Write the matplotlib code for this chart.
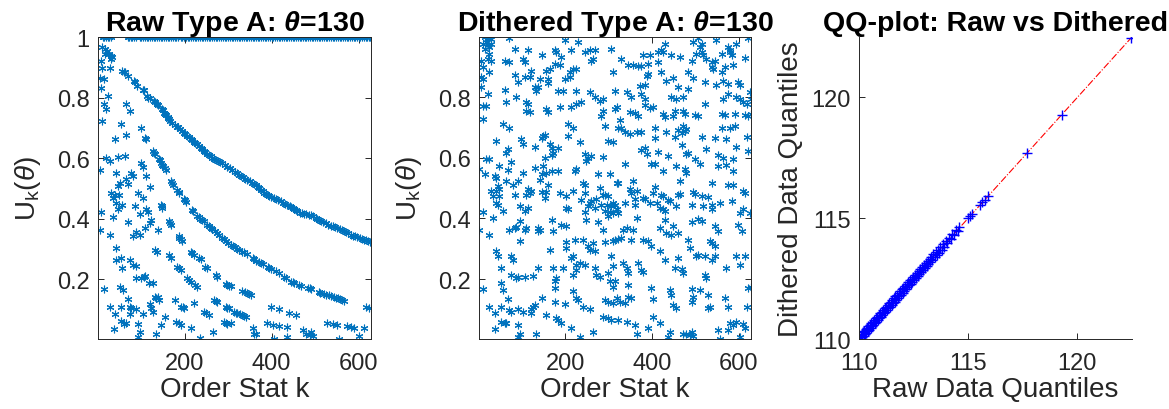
import numpy as np
import matplotlib.pyplot as plt

plt.rcParams['font.family'] = ['Liberation Sans', 'DejaVu Sans']
plt.rcParams['mathtext.fontset'] = 'custom'
plt.rcParams['mathtext.rm'] = 'Liberation Sans'
plt.rcParams['mathtext.it'] = 'Liberation Sans:italic'
plt.rcParams['mathtext.bf'] = 'Liberation Sans:bold:italic'

MBLUE = '#0072BD'
GREY = '#262626'
N_OBS = 628

# ---- raw type A: U_k(theta) vs order statistic k ----
raw_ones_k = [12, 16, 19, 23, 27, 31, 69, 72, 76, 80, 84, 88, 98, 101, 105, 109, 113, 117,
              121, 125, 129, 133, 137, 141, 145, 149, 153, 157, 161, 165, 169, 173, 177, 181,
              185, 191, 195, 199, 203, 207, 211, 215, 219, 223, 227, 231, 235, 239, 243, 247,
              251, 255, 259, 263, 267, 271, 275, 279, 283, 288, 292, 296, 300, 304, 308, 312,
              316, 320, 324, 328, 332, 336, 340, 344, 348, 352, 356, 360, 364, 368, 372, 376,
              380, 384, 388, 392, 396, 400, 404, 408, 412, 416, 420, 424, 428, 432, 436, 440,
              444, 448, 452, 456, 460, 464, 468, 472, 476, 480, 484, 488, 492, 496, 500, 504,
              508, 512, 516, 520, 524, 528, 532, 536, 540, 544, 548, 552, 556, 560, 564, 568,
              572, 576, 580, 584, 588, 592, 596, 600, 604, 608, 612, 616, 620, 624, 627]

raw_band1 = [(11, .966), (18, .960), (22, .955), (26, .944), (30, .938), (34, .933), (18, .944),
             (30, .927), (57, .888), (60, .885), (62, .883), (71, .872), (83, .853), (85, .850),
             (90, .839), (104, .826), (106, .824), (114, .805), (117, .800), (120, .797),
             (129, .787), (131, .785), (137, .777), (139, .775), (149, .762), (151, .759),
             (153, .750), (156, .745), (158, .741), (161, .736), (163, .732), (165, .728),
             (167, .723), (172, .716), (177, .710), (183, .704), (185, .701), (190, .695),
             (195, .690), (199, .684), (202, .679), (206, .674), (210, .668), (214, .663),
             (218, .659), (222, .654), (225, .649), (229, .645), (233, .639), (237, .634),
             (241, .629), (245, .624), (248, .619), (252, .615), (256, .610), (260, .606),
             (264, .601), (268, .597), (272, .593), (276, .589), (281, .586), (286, .582),
             (292, .578), (298, .572), (304, .566), (310, .559), (315, .554), (320, .549),
             (325, .544), (329, .540), (334, .536), (339, .532), (344, .528), (350, .524),
             (355, .519), (360, .515), (364, .511), (368, .505), (371, .500), (375, .495),
             (379, .490), (382, .485), (387, .481), (391, .479), (394, .476), (399, .472),
             (405, .468), (410, .465), (415, .461), (421, .457), (426, .453), (431, .449),
             (436, .446), (441, .441), (445, .437), (448, .434), (452, .431), (456, .427),
             (459, .424), (464, .420), (469, .417), (474, .415), (480, .414), (486, .413),
             (490, .412), (495, .408), (501, .402), (505, .398), (509, .394), (513, .391),
             (518, .388), (524, .385), (530, .380), (536, .376), (541, .374), (546, .371),
             (551, .369), (556, .365), (561, .361), (566, .358), (571, .355), (576, .351),
             (582, .347), (587, .344), (592, .341), (597, .339), (602, .336), (607, .332),
             (612, .330), (617, .328), (622, .326), (626, .324)]

raw_band2 = [(99, .700), (110, .667), (112, .662), (127, .623), (130, .618), (133, .613),
             (141, .597), (143, .593), (146, .585), (149, .578), (151, .574), (154, .566),
             (157, .561), (168, .524), (170, .519), (173, .512), (183, .493), (186, .488),
             (188, .485), (199, .466), (202, .460), (204, .456), (218, .428), (220, .425),
             (229, .410), (233, .404), (236, .400), (241, .395), (244, .391), (252, .380),
             (256, .376), (260, .370), (264, .366), (269, .359), (275, .352), (280, .346),
             (287, .336), (290, .331), (294, .327), (300, .320), (306, .313), (311, .309),
             (315, .305), (321, .299), (326, .295), (333, .291), (337, .288), (344, .284),
             (357, .270), (360, .267), (365, .261), (371, .257), (375, .253), (379, .249),
             (391, .239), (394, .236), (398, .233), (410, .227), (417, .220), (428, .208),
             (432, .204), (444, .192), (448, .189), (452, .186), (463, .181), (467, .178),
             (483, .172), (487, .170), (490, .168), (508, .157), (512, .154), (520, .151),
             (525, .147), (531, .146), (537, .143), (544, .140), (548, .138), (552, .136),
             (557, .134), (562, .131), (566, .129)]

raw_band3 = [(100, .584), (104, .571), (112, .540), (120, .505), (145, .446), (147, .441),
             (149, .436), (164, .391), (166, .386), (168, .380), (186, .341), (188, .337),
             (191, .332), (195, .327), (214, .291), (217, .285), (221, .280), (233, .270),
             (237, .265), (248, .241), (252, .236), (271, .213), (275, .208), (294, .185),
             (298, .181), (301, .178), (306, .176), (333, .160), (338, .157), (343, .155),
             (348, .152), (352, .148)]

raw_band4 = [(133, .297), (136, .291), (164, .280), (168, .269), (183, .241), (187, .236),
             (191, .230), (206, .203), (210, .197), (214, .192), (225, .181), (229, .175),
             (268, .131), (272, .128), (275, .125), (294, .109), (298, .106), (302, .103),
             (314, .092), (318, .089), (321, .087), (327, .084), (333, .081), (337, .078),
             (340, .076)]

raw_scatter = [(8, .922), (11, .899), (28, .899), (6, .866), (14, .861), (8, .833), (24, .805),
               (14, .778), (20, .761), (11, .722), (66, .778), (74, .756), (55, .714),
               (66, .675), (39, .664), (5, .562), (20, .601), (28, .590), (47, .603),
               (62, .606), (43, .551), (51, .516), (47, .507), (31, .485), (39, .479),
               (49, .479), (35, .468), (43, .452), (57, .446), (47, .430), (8, .421),
               (35, .405), (5, .363), (28, .347), (70, .388), (77, .549), (81, .540),
               (66, .531), (70, .513), (93, .485), (104, .468), (85, .441), (97, .416),
               (112, .430), (116, .421), (123, .396), (120, .387), (108, .369), (139, .363),
               (89, .354), (81, .341), (97, .347), (43, .302), (43, .264), (54, .269),
               (57, .236), (74, .264), (81, .247), (89, .244), (89, .203), (108, .211),
               (127, .188), (14, .166), (52, .173), (58, .164), (70, .133), (74, .109),
               (54, .109), (28, .107), (77, .103), (89, .100), (39, .085), (74, .085),
               (104, .085), (120, .118), (123, .105), (127, .092), (135, .137), (139, .142),
               (54, .062), (60, .053), (66, .056), (37, .034), (93, .053), (97, .026),
               (93, .009), (135, .018), (154, .076), (146, .048), (99, .203), (107, .208),
               (118, .186), (133, .142), (141, .131), (177, .131), (191, .109), (196, .109),
               (199, .103), (222, .120), (245, .092), (250, .087), (256, .081), (291, .059),
               (295, .056), (298, .053), (356, .037), (360, .018), (181, .059), (186, .054),
               (192, .048), (214, .037), (235, .004), (265, .026), (306, .054),
               (398, .109), (417, .100), (440, .089), (455, .081), (390, .054), (402, .048),
               (417, .045), (363, .018), (436, .043), (436, .009), (405, .003), (471, .032),
               (479, .020), (487, .015), (494, .012), (491, .026), (528, .056), (540, .052),
               (551, .048), (555, .003), (574, .045), (583, .043), (590, .040), (601, .012),
               (612, .037), (616, .109), (624, .103)]

# ---- dithered type A ----
dith_pts = [
    (14, .998), (21, .993), (25, .997), (29, .993), (18, .982), (10, .977), (21, .971), (29, .977),
    (14, .960), (25, .966), (71, .997), (198, .988), (229, .982), (25, .944), (21, .927), (6, .921),
    (29, .921), (83, .960), (114, .955), (145, .938), (175, .955), (179, .949), (191, .933),
    (214, .955), (245, .949), (256, .955), (268, .955), (264, .927), (260, .921), (60, .921),
    (71, .916), (102, .927), (106, .916), (306, .960), (10, .899), (25, .883), (83, .872),
    (91, .850), (121, .888), (156, .888), (164, .894), (175, .910), (187, .905), (210, .883),
    (218, .894), (225, .894), (198, .861), (210, .866), (106, .866), (118, .866), (141, .861),
    (160, .861), (160, .847), (6, .866), (10, .861), (310, .883), (6, .833), (21, .811), (60, .824),
    (87, .800), (129, .833), (133, .822), (137, .833), (183, .822), (195, .822), (225, .822),
    (256, .816), (268, .800), (279, .789), (287, .794), (314, .822), (64, .785), (110, .785),
    (114, .778), (18, .772), (10, .772), (156, .761), (160, .752), (110, .756), (118, .750),
    (187, .767), (214, .767), (225, .778), (237, .783), (283, .739), (287, .756), (314, .761),
    (10, .728), (56, .711), (71, .697), (206, .711), (218, .700), (291, .706), (145, .667),
    (148, .673), (152, .675), (206, .673), (41, .656), (98, .662), (102, .645), (233, .651),
    (298, .656), (310, .651), (64, .617), (68, .628), (129, .637), (164, .645), (168, .634),
    (183, .634), (18, .597), (25, .597), (75, .586), (152, .601), (168, .609), (172, .615),
    (245, .612), (252, .601), (260, .606), (248, .590), (287, .603), (2, .562), (48, .573),
    (68, .560), (102, .551), (129, .568), (148, .573), (145, .546), (156, .551), (168, .557),
    (183, .557), (221, .557), (225, .562), (275, .548), (302, .546), (14, .546), (37, .540),
    (41, .535), (64, .523), (141, .527), (241, .518), (245, .512), (160, .512), (45, .507),
    (29, .490), (41, .490), (48, .496), (79, .512), (91, .523), (114, .496), (118, .485),
    (121, .490), (145, .487), (156, .487), (152, .468), (187, .485), (202, .474), (218, .490),
    (245, .485), (279, .501), (287, .479), (291, .479), (298, .474), (48, .474), (33, .474),
    (83, .477), (110, .479), (256, .452), (260, .457), (271, .463), (283, .446), (295, .446),
    (306, .441), (310, .452), (41, .452), (45, .446), (237, .460), (95, .441), (106, .424),
    (114, .435), (202, .435), (206, .430), (10, .421), (56, .424), (33, .402), (245, .421),
    (252, .441), (268, .435), (291, .424), (302, .421), (310, .418), (95, .391), (168, .396),
    (248, .394), (275, .387), (298, .407), (2, .363), (25, .347), (71, .363), (83, .369),
    (87, .372), (106, .363), (110, .369), (137, .369), (141, .363), (137, .358), (172, .360),
    (191, .380), (202, .374), (287, .363), (202, .321), (221, .328), (241, .328), (264, .319),
    (291, .321), (310, .324), (95, .324), (41, .291), (45, .275), (75, .275), (79, .264),
    (202, .302), (214, .269), (218, .275), (252, .308), (256, .297), (268, .291), (164, .297),
    (306, .275), (310, .242), (245, .247), (225, .247), (225, .231), (233, .253), (52, .236),
    (75, .214), (87, .203), (91, .208), (106, .208), (125, .211), (137, .236), (172, .236),
    (179, .203), (175, .192), (195, .236), (218, .214), (268, .236), (271, .214), (279, .206),
    (298, .219), (302, .192), (310, .175), (10, .166), (52, .186), (56, .164), (175, .170),
    (218, .159), (68, .133), (25, .107), (52, .109), (71, .098), (75, .092), (91, .100),
    (102, .092), (121, .100), (125, .109), (129, .114), (121, .089), (145, .137), (175, .125),
    (198, .118), (225, .137), (229, .131), (241, .109), (256, .100), (291, .131), (298, .125),
    (310, .120), (37, .087), (52, .059), (64, .056), (60, .054), (91, .048), (95, .020),
    (91, .009), (133, .020), (156, .081), (179, .073), (183, .065), (191, .054), (214, .037),
    (233, .009), (264, .026), (287, .076), (298, .073), (306, .065), (37, .034),
    (429, .977), (494, .982), (506, .997), (514, .977), (510, .966), (514, .949), (518, .938),
    (502, .944), (525, .927), (537, .916), (544, .921), (548, .988), (560, .944), (575, .966),
    (579, .955), (583, .938), (579, .949), (594, .977), (621, .997), (379, .938), (394, .940),
    (414, .949), (421, .955), (425, .949), (444, .940), (464, .933), (491, .921), (614, .929),
    (329, .927), (344, .907), (356, .905), (368, .903), (375, .903), (391, .910),
    (414, .916), (391, .877), (387, .870), (421, .883), (433, .855), (448, .863),
    (483, .883), (494, .863), (537, .899), (541, .894), (568, .899), (587, .905), (560, .883),
    (521, .850), (548, .839), (564, .855), (575, .844), (598, .850), (602, .839), (383, .839),
    (460, .833), (483, .827), (341, .816), (352, .800), (371, .836), (375, .811), (383, .794),
    (444, .800), (456, .794), (471, .800), (564, .794), (575, .811), (594, .800), (602, .794),
    (610, .785), (625, .819), (627, .794), (521, .778), (618, .778), (318, .767), (348, .750),
    (360, .748), (368, .737), (383, .774), (394, .763), (402, .767), (425, .745), (429, .734),
    (448, .737), (452, .756), (471, .756), (475, .745), (498, .741), (506, .737), (560, .745),
    (568, .741), (591, .745), (614, .741), (621, .739), (627, .745), (325, .726), (321, .700),
    (329, .697), (337, .684), (348, .678), (364, .684), (375, .684), (406, .697), (406, .664),
    (433, .684), (452, .670), (460, .693), (468, .682), (471, .706), (475, .689), (479, .695),
    (514, .670), (544, .664), (571, .662), (560, .697), (579, .697), (591, .706), (618, .670),
    (375, .626), (383, .631), (387, .612), (414, .620), (437, .606), (468, .642),
    (483, .615), (479, .612), (525, .628), (552, .609), (564, .601), (587, .597), (594, .637),
    (621, .623), (337, .579), (398, .579), (406, .579), (425, .557), (456, .573), (479, .551),
    (475, .562), (498, .595), (510, .579), (552, .573), (571, .575), (587, .557),
    (318, .518), (321, .516), (356, .523), (348, .496), (352, .485), (364, .490), (360, .463),
    (379, .468), (383, .463), (406, .505), (402, .485), (421, .476), (425, .474), (460, .479),
    (464, .482), (441, .457), (464, .523), (494, .487), (498, .482), (514, .474), (529, .471),
    (537, .518), (575, .509), (587, .512), (614, .485), (610, .490), (314, .446),
    (318, .430), (321, .418), (337, .452), (360, .446), (394, .452), (410, .452),
    (418, .435), (425, .430), (429, .396), (429, .424), (437, .460), (456, .441), (491, .446),
    (518, .441), (537, .430), (537, .446), (556, .452), (583, .457), (602, .418), (610, .430),
    (625, .418), (491, .387), (506, .398), (514, .391), (333, .363), (341, .369), (356, .363),
    (364, .402), (418, .369), (433, .352), (444, .347), (448, .374), (460, .352), (544, .374),
    (552, .358), (598, .380), (606, .358), (314, .330), (321, .332), (329, .336), (352, .330),
    (379, .330), (391, .324), (398, .310), (483, .330), (487, .302), (533, .324), (537, .319),
    (544, .308), (333, .253), (341, .236), (344, .219), (368, .253), (375, .231),
    (379, .222), (418, .291), (429, .264), (460, .269), (502, .275), (506, .280), (521, .275),
    (537, .264), (544, .275), (571, .236), (594, .275), (602, .247), (614, .275), (452, .236),
    (468, .233), (471, .219), (521, .214), (525, .203), (314, .195), (344, .181),
    (398, .170), (402, .133), (441, .164), (444, .148), (491, .166), (494, .142), (491, .125),
    (510, .164), (529, .148), (621, .170), (627, .175), (318, .137), (325, .125), (337, .120),
    (344, .142), (352, .139), (568, .139), (448, .114), (456, .103), (529, .103), (533, .109),
    (575, .109), (618, .107), (321, .065), (341, .059), (360, .048), (364, .018),
    (391, .037), (402, .076), (418, .054), (441, .026), (437, .009), (471, .020), (479, .020),
    (487, .015), (494, .012), (491, .026), (552, .032), (556, .003), (579, .054), (575, .032),
    (587, .048), (594, .059), (602, .009), (610, .051), (614, .040)]

# ---- QQ plot: sorted raw vs sorted dithered ----
qq_raw = [110.00, 110.02, 110.05, 110.08, 110.10, 110.13, 110.16, 110.19, 110.22, 110.25,
          110.28, 110.31, 110.34, 110.37, 110.40, 110.43, 110.46, 110.50, 110.53, 110.56,
          110.60, 110.63, 110.66, 110.70, 110.73, 110.76, 110.80, 110.83, 110.86, 110.90,
          110.93, 110.97, 111.00, 111.04, 111.07, 111.11, 111.14, 111.18, 111.21, 111.25,
          111.28, 111.32, 111.35, 111.39, 111.42, 111.46, 111.49, 111.53, 111.56, 111.60,
          111.63, 111.67, 111.70, 111.74, 111.78, 111.81, 111.85, 111.89, 111.92, 111.96,
          112.00, 112.03, 112.07, 112.11, 112.15, 112.18, 112.22, 112.26, 112.30, 112.34,
          112.37, 112.41, 112.45, 112.49, 112.53, 112.57, 112.61, 112.65, 112.69, 112.73,
          112.77, 112.81, 112.85, 112.89, 112.93, 112.97, 113.01, 113.05, 113.10, 113.14,
          113.18, 113.23, 113.27, 113.32, 113.36, 113.41, 113.46, 113.51, 113.56, 113.61,
          113.66, 113.72, 113.78, 113.84, 113.90, 113.97, 114.04, 114.12, 114.20, 114.28,
          114.36, 114.44, 114.52, 114.58, 114.98, 115.08, 115.17, 115.55, 115.65, 115.75,
          115.92, 117.68, 119.28, 122.47]
qq_dith = [110.00, 110.11, 109.98, 110.17, 110.02, 110.22, 110.08, 110.28, 110.14, 110.34,
           110.20, 110.40, 110.26, 110.46, 110.32, 110.52, 110.38, 110.59, 110.45, 110.65,
           110.52, 110.72, 110.58, 110.79, 110.65, 110.85, 110.72, 110.92, 110.78, 110.99,
           110.85, 111.06, 110.92, 111.13, 110.99, 111.20, 111.06, 111.27, 111.13, 111.34,
           111.20, 111.41, 111.27, 111.48, 111.34, 111.55, 111.41, 111.62, 111.48, 111.69,
           111.55, 111.76, 111.62, 111.83, 111.70, 111.90, 111.77, 111.98, 111.84, 112.05,
           111.92, 112.12, 111.99, 112.20, 112.07, 112.27, 112.14, 112.35, 112.22, 112.43,
           112.29, 112.50, 112.37, 112.58, 112.45, 112.66, 112.53, 112.74, 112.61, 112.82,
           112.69, 112.90, 112.77, 112.98, 112.85, 113.06, 112.93, 113.14, 113.02, 113.23,
           113.10, 113.32, 113.19, 113.41, 113.28, 113.50, 113.38, 113.60, 113.48, 113.70,
           113.58, 113.81, 113.70, 113.93, 113.82, 114.06, 113.96, 114.20, 114.13, 114.36,
           114.29, 114.52, 114.46, 114.62, 114.99, 115.09, 115.18, 115.56, 115.66, 115.76,
           115.93, 117.69, 119.29, 122.47]


def style_axes(ax, box=True):
    for name, sp in ax.spines.items():
        sp.set_color(GREY)
        sp.set_linewidth(0.7)
        if not box and name in ('top', 'right'):
            sp.set_visible(False)
    ax.tick_params(direction='in', length=4, width=0.7, colors=GREY, labelsize=17,
                   top=box, right=box)
    ax.tick_params(axis='x', pad=9)
    ax.tick_params(axis='y', pad=6)


star = (6, 2, 0)

fig = plt.figure(figsize=(11.69, 4.10), dpi=100)
ax1 = fig.add_axes([0.0838, 0.1707, 0.2335, 0.7366])
ax2 = fig.add_axes([0.4098, 0.1707, 0.2327, 0.7366])
ax3 = fig.add_axes([0.7348, 0.1707, 0.2335, 0.7366])

# panel 1
raw_pts = ([(k, 1.0) for k in raw_ones_k] + raw_band1 + raw_band2 + raw_band3 +
           raw_band4 + raw_scatter)
rk = np.array([p[0] for p in raw_pts], dtype=float)
ru = np.array([p[1] for p in raw_pts], dtype=float)
ax1.plot(rk, ru, linestyle='none', marker=star, ms=5.5, mew=0.8, color=MBLUE)
ax1.set_xlim(1, N_OBS)
ax1.set_ylim(0.002, 1.0)
ax1.set_xticks([200, 400, 600])
ax1.set_yticks([0.2, 0.4, 0.6, 0.8, 1.0])
ax1.set_yticklabels(['0.2', '0.4', '0.6', '0.8', '1'])
style_axes(ax1)
ax1.set_title(r'Raw Type A: $\mathbf{\theta}$=130', fontsize=20.5, fontweight='bold', pad=5)
ax1.set_xlabel('Order Stat k', fontsize=20, color=GREY, labelpad=2)
ax1.set_ylabel(r'U$_{\mathrm{k}}$($\theta$)', fontsize=20, color=GREY, labelpad=10)

# panel 2
dk = np.array([p[0] for p in dith_pts], dtype=float)
du = np.array([p[1] for p in dith_pts], dtype=float)
ax2.plot(dk, du, linestyle='none', marker=star, ms=5.5, mew=0.8, color=MBLUE)
ax2.set_xlim(1, N_OBS)
ax2.set_ylim(0.002, 0.999)
ax2.set_xticks([200, 400, 600])
ax2.set_yticks([0.2, 0.4, 0.6, 0.8])
ax2.set_yticklabels(['0.2', '0.4', '0.6', '0.8'])
style_axes(ax2)
ax2.set_title(r'Dithered Type A: $\mathbf{\theta}$=130', fontsize=20.5, fontweight='bold',
              pad=5)
ax2.set_xlabel('Order Stat k', fontsize=20, color=GREY, labelpad=2)
ax2.set_ylabel(r'U$_{\mathrm{k}}$($\theta$)', fontsize=20, color=GREY, labelpad=10)

# panel 3
ax3.plot([qq_raw[0], qq_raw[-1]], [qq_raw[0], qq_dith[-1]], linestyle='-.', color='red',
         lw=0.8)
ax3.plot(qq_raw, qq_dith, linestyle='none', marker='+', ms=6.5, mew=1.0, color='blue')
ax3.set_xlim(110, 122.5)
ax3.set_ylim(110, 122.5)
ax3.set_xticks([110, 115, 120])
ax3.set_yticks([110, 115, 120])
style_axes(ax3, box=False)
ax3.set_title('QQ-plot: Raw vs Dithered', fontsize=20.5, fontweight='bold', pad=5)
ax3.set_xlabel('Raw Data Quantiles', fontsize=20, color=GREY, labelpad=2)
ax3.set_ylabel('Dithered Data Quantiles', fontsize=20, color=GREY, labelpad=5)

fig.savefig('out.png', dpi=100)
